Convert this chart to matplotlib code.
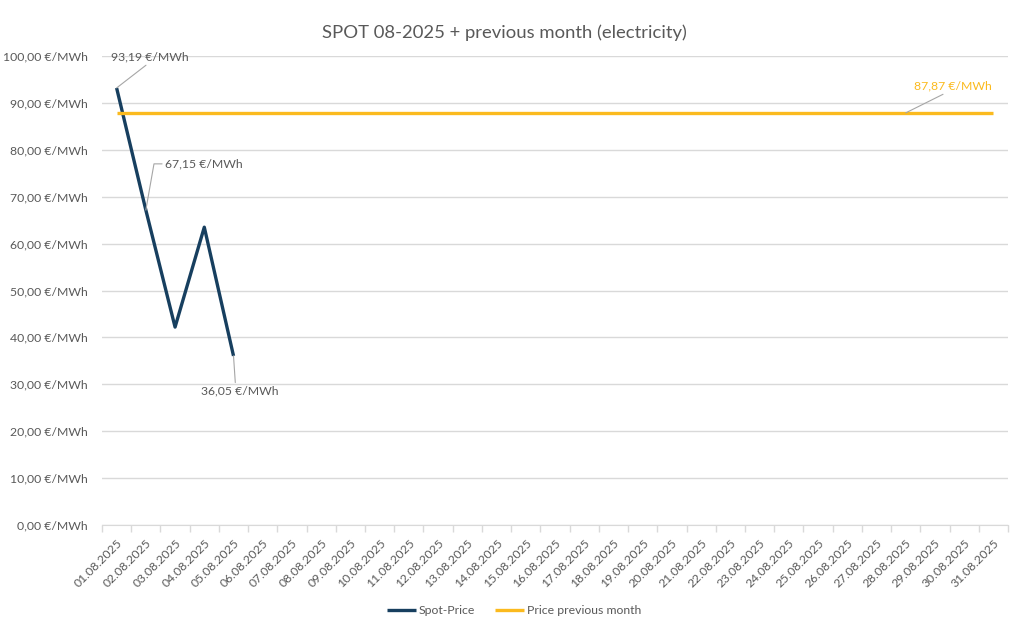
import matplotlib
matplotlib.use('Agg')
import matplotlib.pyplot as plt
import numpy as np

days = ['%02d.08.2025' % d for d in range(1, 32)]
spot = [93.19, 67.15, 42.2, 63.5, 36.05]
prev_month = [87.87] * 31
yticks = np.arange(0, 101, 10)

plt.rcParams['font.family'] = ['Lato', 'DejaVu Sans']
grey = '#595959'
navy = '#173F5F'
gold = '#FBBA1E'
fs = 8.8

fig = plt.figure(figsize=(10.24, 6.34), dpi=100)
ax = fig.add_axes([102/1024, 1-525/634, 906/1024, (525-56)/634])

x = np.arange(len(days))
ax.plot(x[:len(spot)], spot, color=navy, lw=2.4, label='Spot-Price', solid_capstyle='butt')
ax.plot(x, prev_month, color=gold, lw=2.4, label='Price previous month', solid_capstyle='butt')

ax.set_xlim(-0.5, len(days) - 0.5)
ax.set_ylim(0, 100)
ax.set_yticks(yticks)
ax.set_yticklabels(['%d,00 €/MWh' % v for v in yticks], color=grey, fontsize=fs)
ax.set_xticks(x)
ax.set_xticklabels(days, rotation=45, ha='right', rotation_mode='anchor', color=grey, fontsize=fs)
ax.set_xticks(np.arange(len(days) + 1) - 0.5, minor=True)
ax.tick_params(axis='y', which='major', length=0, pad=10)
ax.tick_params(axis='x', which='major', length=0, pad=9)
ax.tick_params(axis='x', which='minor', length=5, color='#D9D9D9', width=1)
ax.grid(axis='y', color='#D9D9D9', lw=1)
ax.set_axisbelow(True)
for s in ['top', 'right', 'left']:
    ax.spines[s].set_visible(False)
ax.spines['bottom'].set_color('#D9D9D9')

fmt = lambda v: ('%.2f €/MWh' % v).replace('.', ',')
line = dict(arrowstyle='-', color='#A6A6A6', lw=0.8, shrinkA=0, shrinkB=0)
ax.annotate(fmt(spot[0]), xy=(0, spot[0]), xytext=(-0.2, 99.8), color=grey, fontsize=fs,
            ha='left', va='center', arrowprops=dict(line, relpos=(0.5, 0)))
ax.annotate(fmt(spot[1]), xy=(1, spot[1]), xytext=(1.65, 77.0), color=grey, fontsize=fs,
            ha='left', va='center',
            arrowprops=dict(line, connectionstyle='angle,angleA=0,angleB=80,rad=0', relpos=(0, 0.5)))
ax.annotate(fmt(spot[4]), xy=(4, spot[4]), xytext=(4.2, 28.6), color=grey, fontsize=fs,
            ha='center', va='center', arrowprops=dict(line, relpos=(0.45, 1)))
ax.annotate(fmt(prev_month[27]), xy=(27, prev_month[27]), xytext=(27.27, 93.6), color=gold, fontsize=fs,
            ha='left', va='center', arrowprops=dict(line, relpos=(0.45, 0)))

fig.suptitle('SPOT 08-2025 + previous month (electricity)', color=grey, fontsize=13.3, x=0.493, y=0.962)
fig.legend(loc='center', bbox_to_anchor=(0.502, 1 - 611/634), ncol=2, frameon=False,
           fontsize=fs, labelcolor=grey, handlelength=2.4, handletextpad=0.25, columnspacing=1.6)

fig.savefig('out.png', dpi=100)
